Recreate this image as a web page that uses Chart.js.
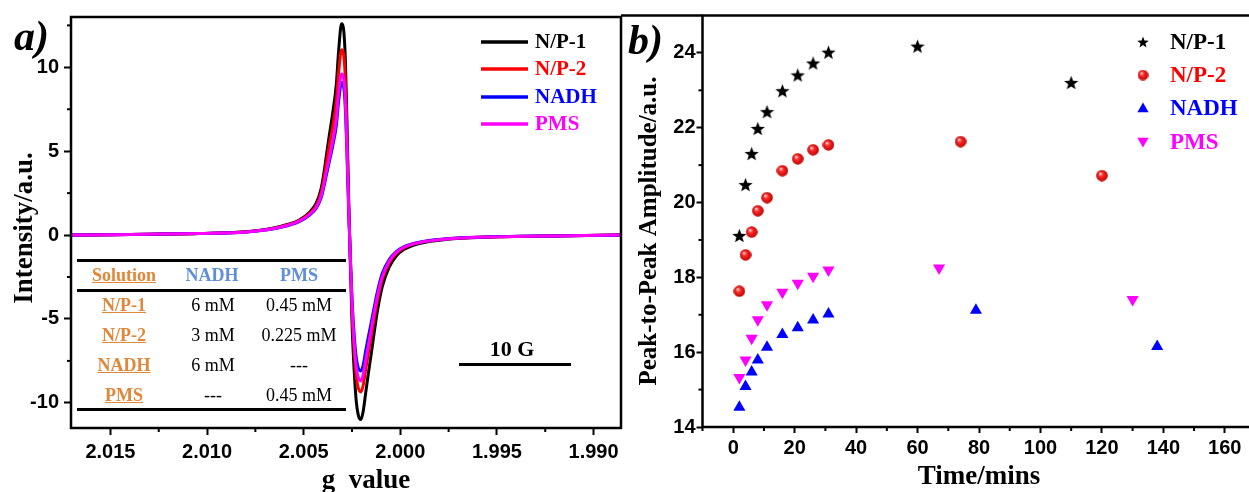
<!DOCTYPE html>
<html><head><meta charset="utf-8">
<script src="https://cdn.jsdelivr.net/npm/chart.js@4.4.1/dist/chart.umd.min.js"></script>
<style>
html,body{margin:0;padding:0;width:1249px;height:492px;overflow:hidden;background:#fff;}
#wa{position:absolute;left:0;top:0;width:640px;height:492px;}
#wb{position:absolute;left:600px;top:0;width:680px;height:492px;}
.pl{position:absolute;font-family:"Liberation Serif",serif;font-weight:bold;font-style:italic;font-size:42px;line-height:1;}
.t{position:absolute;font-family:"Liberation Serif",serif;font-size:18px;transform:translate(-50%,-50%);white-space:nowrap;line-height:1;color:#000;}
.o{color:#e0873a;font-weight:bold;text-decoration:underline;}
.bl{color:#5f8fd4;font-weight:bold;}
.hr{position:absolute;left:77px;width:269px;height:3px;background:#000;}
.sg{position:absolute;font-family:"Liberation Serif",serif;font-weight:bold;font-size:22px;line-height:1;transform:translate(-50%,-50%);}
</style></head><body>
<div id="wa"><canvas id="ca"></canvas></div>
<div id="wb"><canvas id="cb"></canvas></div>
<div class="pl" style="left:14px;top:15px;">a)</div>
<div class="pl" style="left:628px;top:19px;">b)</div>
<div class="hr" style="top:259px"></div>
<div class="hr" style="top:289px"></div>
<div class="hr" style="top:408px"></div>
<div class="t o" style="left:124px;top:275px">Solution</div>
<div class="t bl" style="left:212px;top:275px">NADH</div>
<div class="t bl" style="left:299px;top:275px">PMS</div>
<div class="t o" style="left:124px;top:305px">N/P-1</div>
<div class="t" style="left:213px;top:305px">6 mM</div>
<div class="t" style="left:299px;top:305px">0.45 mM</div>
<div class="t o" style="left:124px;top:335px">N/P-2</div>
<div class="t" style="left:213px;top:335px">3 mM</div>
<div class="t" style="left:299px;top:335px">0.225 mM</div>
<div class="t o" style="left:124px;top:365px">NADH</div>
<div class="t" style="left:213px;top:365px">6 mM</div>
<div class="t" style="left:299px;top:365px">---</div>
<div class="t o" style="left:124px;top:395px">PMS</div>
<div class="t" style="left:213px;top:395px">---</div>
<div class="t" style="left:299px;top:395px">0.45 mM</div>
<div class="sg" style="left:512px;top:349px">10 G</div>
<div style="position:absolute;left:459px;top:362.5px;width:112px;height:3px;background:#000;"></div>
<script>
// ---------- Panel a data (EPR spectra) ----------
const gValues = [2.01707,2.0150,2.01298,2.01040,2.00781,2.00611,2.00523,2.00471,2.00435,2.00409,2.00394,2.00383,2.00368,2.00352,2.00331,2.00319,2.00304,2.00287,2.00277,2.00267,2.00259,2.00254,2.00249,2.00238,2.00228,2.00218,2.00204,2.00192,2.00179,2.00166,2.00152,2.00135,2.00118,2.00094,2.00057,2.00021,1.99980,1.99902,1.99747,1.99489,1.99127,1.98858];
const np1Curve = [0.0,0.02,0.05,0.1,0.22,0.55,0.9,1.35,1.9,2.8,3.8,4.7,5.9,7.1,9.0,11.0,12.6,11.2,7.2,2.0,-1.5,-3.5,-5.5,-8.2,-9.9,-10.7,-11.0,-10.5,-9.4,-8.3,-7.2,-5.8,-4.5,-3.1,-1.9,-1.25,-0.85,-0.5,-0.24,-0.1,-0.04,0.0];
const np2Curve = [0.0,0.02,0.05,0.1,0.21,0.52,0.86,1.28,1.75,2.55,3.45,4.25,5.3,6.3,8.0,9.7,11.05,9.9,6.4,1.8,-1.3,-3.0,-4.7,-7.0,-8.4,-9.1,-9.35,-8.95,-8.0,-7.1,-6.15,-4.95,-3.85,-2.65,-1.65,-1.1,-0.75,-0.45,-0.22,-0.1,-0.04,0.0];
const nadhCurve = [0.0,0.02,0.05,0.1,0.2,0.48,0.8,1.18,1.6,2.25,2.95,3.55,4.35,5.2,6.55,8.0,9.1,8.1,5.2,1.45,-1.1,-2.6,-4.0,-6.05,-7.3,-7.9,-8.1,-7.75,-6.9,-6.1,-5.3,-4.3,-3.35,-2.3,-1.45,-0.98,-0.68,-0.42,-0.21,-0.09,-0.04,0.0];
const pmsCurve = [0.0,0.02,0.05,0.1,0.2,0.5,0.83,1.22,1.66,2.35,3.1,3.75,4.55,5.45,6.9,8.5,9.6,8.55,5.5,1.55,-1.2,-2.8,-4.35,-6.5,-7.85,-8.45,-8.7,-8.3,-7.45,-6.6,-5.7,-4.6,-3.6,-2.5,-1.55,-1.03,-0.72,-0.44,-0.22,-0.1,-0.04,0.0];
const seriesNames = ['N/P-1','N/P-2','NADH','PMS'];
const gTicks = [2.015,2.010,2.005,2.000,1.995,1.990];
const intensityTicks = [10,5,0,-5,-10];

// ---------- Panel b data (peak-to-peak amplitude vs time) ----------
const timeNP1 = [2,4,6,8,11,16,21,26,31,60,110];
const ampNP1  = [19.12,20.48,21.31,21.98,22.43,22.99,23.41,23.73,24.02,24.18,23.21];
const timeNP2 = [2,4,6,8,11,16,21,26,31,74,120];
const ampNP2  = [17.63,18.60,19.21,19.78,20.13,20.85,21.17,21.41,21.54,21.63,20.72];
const timeNADH = [2,4,6,8,11,16,21,26,31,79,138];
const ampNADH  = [14.53,15.08,15.47,15.79,16.13,16.47,16.65,16.86,17.02,17.12,16.15];
const timePMS = [2,4,6,8,11,16,21,26,31,67,130];
const ampPMS  = [15.32,15.79,16.37,16.87,17.27,17.60,17.84,18.03,18.20,18.25,17.41];
const timeTicks = [0,20,40,60,80,100,120,140,160];
const ampTicks = [14,16,18,20,22,24];

const colors = ['#000000','#ff0000','#0000ff','#ff00ff'];
const SANS = '"Liberation Sans", Arial, sans-serif';
const SERIF = '"Liberation Serif", "Times New Roman", serif';
const tickFont = {family:SANS, size:20, weight:'bold'};
Chart.defaults.color = '#000';

function makeStar(d){
  const c=document.createElement('canvas'); c.width=c.height=d;
  const x=c.getContext('2d'); const R=d/2, r=R*0.42;
  x.fillStyle='#000'; x.beginPath();
  for(let k=0;k<10;k++){const a=-Math.PI/2+k*Math.PI/5; const q=k%2?r:R; x.lineTo(R+q*Math.cos(a), R+R*0.1+q*Math.sin(a));}
  x.closePath(); x.fill(); return c;
}
function makeSphere(d){
  const c=document.createElement('canvas'); c.width=c.height=d;
  const x=c.getContext('2d'); const r=d/2;
  const g=x.createRadialGradient(r*0.7,r*0.65,0.3,r,r,r);
  g.addColorStop(0,'#ffe0e0'); g.addColorStop(0.35,'#ff2a2a'); g.addColorStop(1,'#b80000');
  x.fillStyle=g; x.beginPath(); x.arc(r,r,r-0.2,0,Math.PI*2); x.fill(); return c;
}
function tri(ctx,x,y,r,down,color){
  ctx.fillStyle=color; ctx.beginPath();
  const s=down?-1:1;
  ctx.moveTo(x, y - s*r);
  ctx.lineTo(x + r*Math.sin(2*Math.PI/3), y + s*r*0.5);
  ctx.lineTo(x - r*Math.sin(2*Math.PI/3), y + s*r*0.5);
  ctx.closePath(); ctx.fill();
}
function tickLine(ctx,x1,y1,x2,y2){ctx.beginPath();ctx.moveTo(x1,y1);ctx.lineTo(x2,y2);ctx.stroke();}
function axisTitle(ctx,text,x,y,size,rot){
  ctx.save(); ctx.translate(x,y); if(rot) ctx.rotate(-Math.PI/2);
  ctx.font='bold '+size+'px '+SERIF; ctx.fillStyle='#000'; ctx.textAlign='center'; ctx.textBaseline='middle';
  ctx.fillText(text,0,0); ctx.restore();
}

const frameA = {
  id:'frameA',
  afterDraw(chart){
    const {ctx, chartArea:a, scales:{x,y}} = chart;
    ctx.save();
    ctx.strokeStyle='#000'; ctx.lineWidth=2.5;
    ctx.strokeRect(a.left,a.top,a.right-a.left,a.bottom-a.top);
    ctx.lineWidth=2;
    for(let i=0;i<=gTicks.length;i++){
      const v=(i<gTicks.length?gTicks[i]:gTicks[gTicks.length-1]-0.005)+0.0025;
      if(v<=x.max && v>=x.min){const p=x.getPixelForValue(v); tickLine(ctx,p,a.bottom,p,a.bottom+4);}
    }
    for(let i=0;i<=intensityTicks.length;i++){
      const v=(i<intensityTicks.length?intensityTicks[i]:intensityTicks[intensityTicks.length-1]-5)+2.5;
      if(v<=y.max && v>=y.min){const p=y.getPixelForValue(v); tickLine(ctx,a.left,p,a.left-4,p);}
    }
    axisTitle(ctx,'Intensity/a.u.',25,228,27,true);
    axisTitle(ctx,'g  value',366,481,27,false);
    // legend
    const rows=[42,69,97,124];
    ctx.font='bold 21px '+SERIF; ctx.textBaseline='middle'; ctx.textAlign='left';
    seriesNames.forEach((n,i)=>{
      ctx.strokeStyle=colors[i]; ctx.lineWidth=3.5;
      tickLine(ctx,481,rows[i],528,rows[i]);
      ctx.fillStyle=colors[i]; ctx.fillText(n,535,rows[i]+1);
    });
    ctx.restore();
  }
};

const curves=[np1Curve,np2Curve,nadhCurve,pmsCurve];
new Chart(document.getElementById('ca'),{
  type:'line',
  data:{datasets:curves.map((s,i)=>({
    label:seriesNames[i],
    data:gValues.map((g,j)=>({x:g,y:s[j]})),
    borderColor:colors[i], borderWidth:3, pointRadius:0,
    cubicInterpolationMode:'monotone', fill:false, order:4-i
  }))},
  options:{
    responsive:true, maintainAspectRatio:false, animation:false, devicePixelRatio:1, events:[],
    layout:{padding:{left:0,top:16.5,right:19,bottom:0}},
    plugins:{legend:{display:false},tooltip:{enabled:false}},
    scales:{
      x:{type:'linear',reverse:true,min:1.98858,max:2.01704,
        afterBuildTicks:s=>{s.ticks=gTicks.map(v=>({value:v}));},
        afterFit:s=>{s.height=64;},
        ticks:{font:tickFont,color:'#000',padding:5,maxRotation:0,autoSkip:false,callback:v=>Number(v).toFixed(3)},
        grid:{drawOnChartArea:false,drawTicks:true,tickLength:7,tickWidth:2,tickColor:'#000'},
        border:{display:false}
      },
      y:{type:'linear',min:-11.5,max:13,
        afterBuildTicks:s=>{s.ticks=intensityTicks.map(v=>({value:v}));},
        afterFit:s=>{s.width=71;},
        ticks:{font:tickFont,color:'#000',padding:5,callback:v=>String(v)},
        grid:{drawOnChartArea:false,drawTicks:true,tickLength:7,tickWidth:2,tickColor:'#000'},
        border:{display:false}
      }
    }
  },
  plugins:[frameA]
});

const starImg=makeStar(15), sphereImg=makeSphere(12);
const starLeg=makeStar(12), sphereLeg=makeSphere(11);

const frameB = {
  id:'frameB',
  afterDraw(chart){
    const {ctx, chartArea:a, scales:{x,y}} = chart;
    ctx.save();
    ctx.strokeStyle='#000'; ctx.lineWidth=2.5;
    ctx.strokeRect(a.left,a.top,a.right-a.left,a.bottom-a.top);
    tickLine(ctx,21,a.top,a.left,a.top);
    ctx.lineWidth=2;
    for(let i=-1;i<timeTicks.length;i++){
      const v=(i<0?timeTicks[0]-20:timeTicks[i])+10;
      if(v<=x.max && v>=x.min){const p=x.getPixelForValue(v); tickLine(ctx,p,a.bottom,p,a.bottom+4);}
    }
    for(let i=0;i<ampTicks.length;i++){
      const v=ampTicks[i]+1;
      if(v<y.max){const p=y.getPixelForValue(v); tickLine(ctx,a.left,p,a.left-4,p);}
    }
    axisTitle(ctx,'Peak-to-Peak Amplitude/a.u.',50,231,25,true);
    axisTitle(ctx,'Time/mins',(a.left+a.right)/2,477,27,false);
    // legend
    const rows=[42,75,108,142]; const mx=543, tx=570;
    ctx.drawImage(starLeg,mx-6,rows[0]-6);
    ctx.drawImage(sphereLeg,mx-5.5,rows[1]-5.5);
    tri(ctx,mx,rows[2]+1,6.5,false,colors[2]);
    tri(ctx,mx,rows[3]-1,6.5,true,colors[3]);
    ctx.font='bold 23px '+SERIF; ctx.textBaseline='middle'; ctx.textAlign='left';
    seriesNames.forEach((n,i)=>{ctx.fillStyle=colors[i]; ctx.fillText(n,tx,rows[i]+1);});
    ctx.restore();
  }
};

const pts=(t,v)=>t.map((tt,i)=>({x:tt,y:v[i]}));
new Chart(document.getElementById('cb'),{
  type:'scatter',
  data:{datasets:[
    {label:seriesNames[0],data:pts(timeNP1,ampNP1),pointStyle:starImg,pointRadius:7,order:4},
    {label:seriesNames[1],data:pts(timeNP2,ampNP2),pointStyle:sphereImg,pointRadius:6,order:3},
    {label:seriesNames[2],data:pts(timeNADH,ampNADH),pointStyle:'triangle',pointRadius:7,backgroundColor:colors[2],borderWidth:0,pointBorderWidth:0,order:2},
    {label:seriesNames[3],data:pts(timePMS,ampPMS),pointStyle:'triangle',pointRotation:180,pointRadius:7,backgroundColor:colors[3],borderWidth:0,pointBorderWidth:0,order:1}
  ]},
  options:{
    responsive:true, maintainAspectRatio:false, animation:false, devicePixelRatio:1, events:[],
    layout:{padding:{left:0,top:15.5,right:24.5,bottom:0}},
    plugins:{legend:{display:false},tooltip:{enabled:false}},
    scales:{
      x:{type:'linear',min:-10,max:170,
        afterBuildTicks:s=>{s.ticks=timeTicks.map(v=>({value:v}));},
        afterFit:s=>{s.height=65;},
        ticks:{font:tickFont,color:'#000',padding:3,maxRotation:0,autoSkip:false,callback:v=>String(v)},
        grid:{drawOnChartArea:false,drawTicks:true,tickLength:6,tickWidth:2,tickColor:'#000'},
        border:{display:false}
      },
      y:{type:'linear',min:14,max:25,
        afterBuildTicks:s=>{s.ticks=ampTicks.map(v=>({value:v}));},
        afterFit:s=>{s.width=102.5;},
        ticks:{font:tickFont,color:'#000',padding:1,callback:v=>String(v)},
        grid:{drawOnChartArea:false,drawTicks:true,tickLength:6,tickWidth:2,tickColor:'#000'},
        border:{display:false}
      }
    }
  },
  plugins:[frameB]
});
</script>
</body></html>
